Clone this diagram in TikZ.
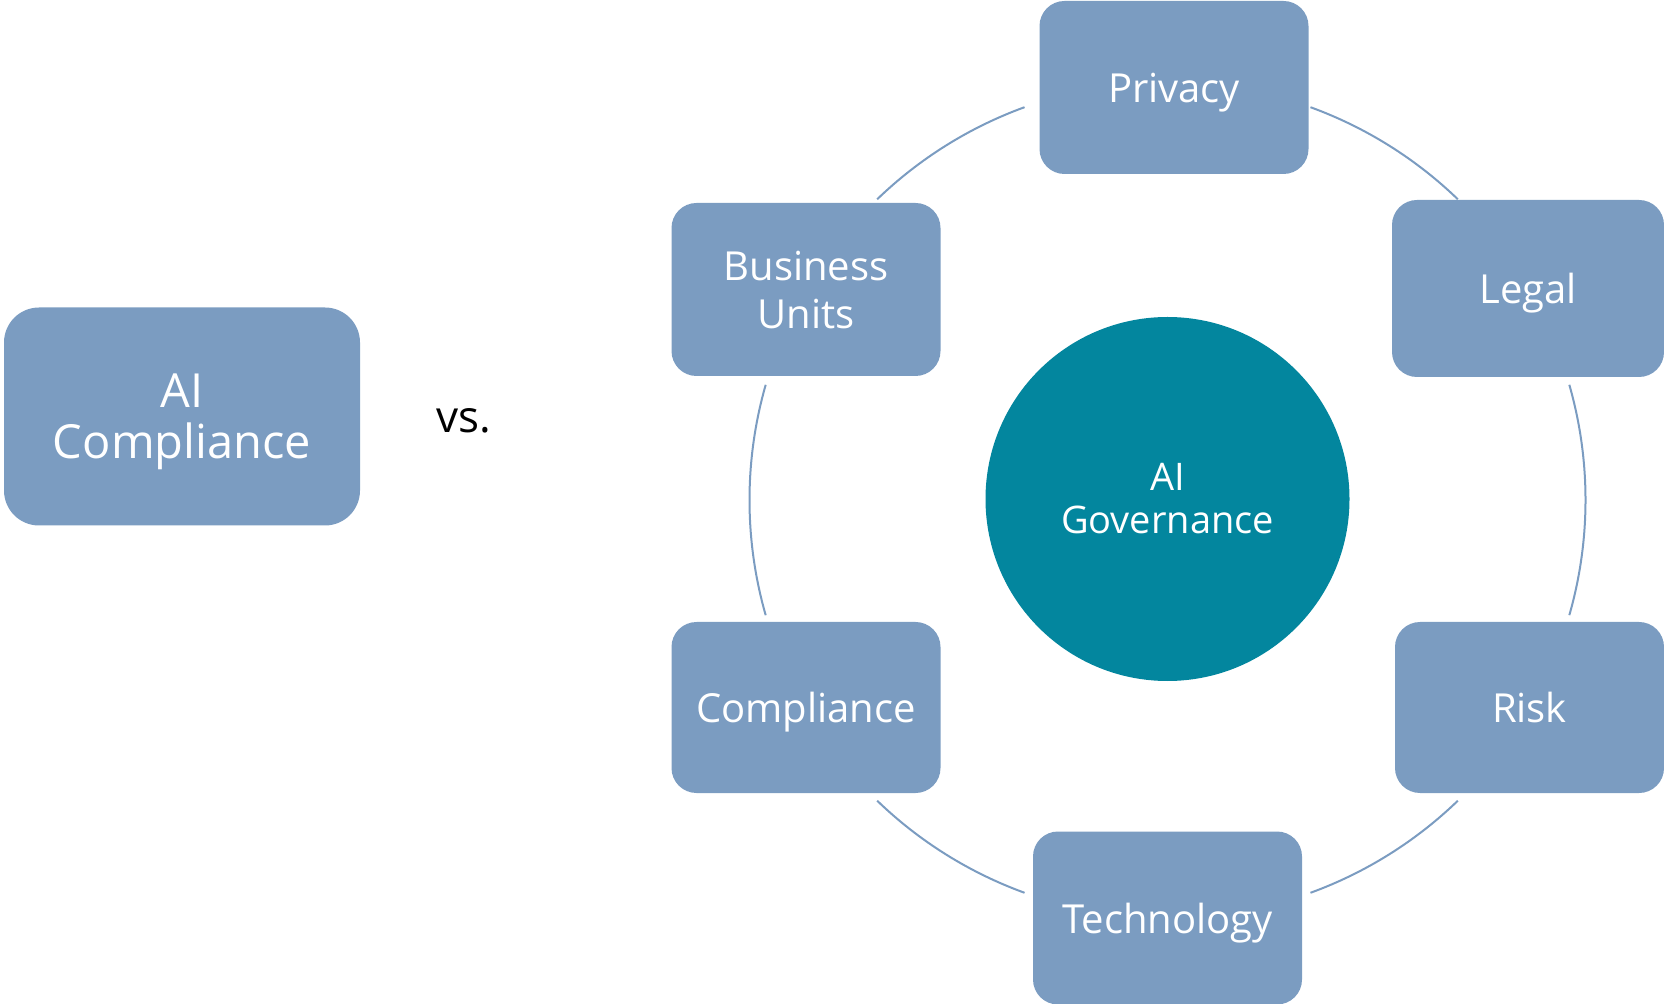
\documentclass[tikz,border=0pt]{standalone}
\usepackage{fontspec}
\setmainfont{Open Sans}
\definecolor{boxblue}{RGB}{123,156,193}
\definecolor{govteal}{RGB}{3,134,158}

\begin{document}
\begin{tikzpicture}[x=0.5pt,y=-0.5pt,
    box node/.style={rectangle,rounded corners=12.5pt,fill=boxblue,text=white,inner sep=0pt,text depth=0pt,
        minimum width=134.5pt,minimum height=86.5pt,align=center,font=\fontsize{20}{24}\selectfont},
    ring line/.style={draw=boxblue,line width=1pt}]
    \useasboundingbox (0,0) rectangle (1664,1004);

    \node[box node,minimum width=178pt,minimum height=109pt,rounded corners=17.5pt,
        font=\fontsize{23.5}{25.5}\selectfont] (aic) at (182,416.5) {AI\\Compliance};
    \node[font=\fontsize{22}{26}\selectfont] (vs) at (464,421) {vs.};

    % invisible ring that carries the arcs
    \node[circle,inner sep=0pt,outer sep=0pt,minimum size=418pt] (ring) at (1167.5,500) {};
    \node[circle,fill=govteal,text=white,inner sep=0pt,minimum size=182pt,align=center,
        font=\fontsize{19}{21.5}\selectfont] (gov) at (1167.5,499) {AI\\Governance};

    \node[box node] (privacy) at (1174,87.5) {Privacy};
    \node[box node,minimum width=136pt,minimum height=88.5pt] (legal) at (1528,288.5) {Legal};
    \node[box node,minimum height=85.5pt] (risk) at (1529.5,707.5) {Risk};
    \node[box node] (tech) at (1167.5,918) {Technology};
    \node[box node,minimum height=85.5pt] (compl) at (806,707.5) {Compliance};
    \node[box node] (biz) at (806,289.5) {Business\\Units};

    \foreach \a/\b in {46/70,110/134,164/196,226/250,290/314,-16/16}
        \draw[ring line] (ring.\a) arc[start angle=\a,end angle=\b,radius=209pt];
\end{tikzpicture}
\end{document}
